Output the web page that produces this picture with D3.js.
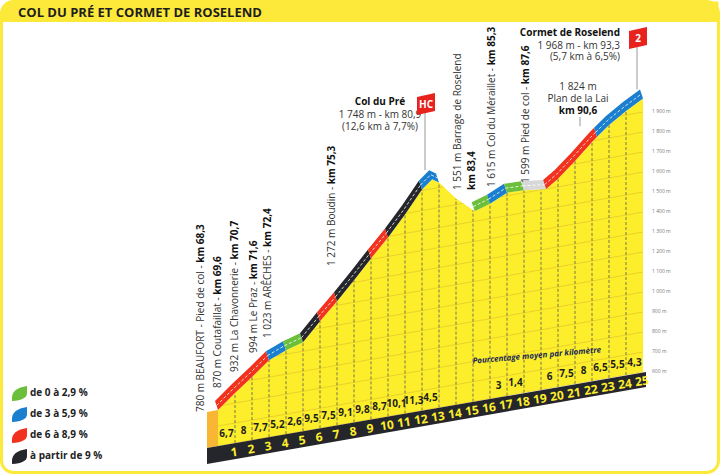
<!DOCTYPE html>
<html>
<head>
<meta charset="utf-8">
<script src="https://cdn.jsdelivr.net/npm/d3@7"></script>
<style>
body { margin: 0; background: #fff; }
text { font-family: 'Open Sans', 'Noto Sans', sans-serif; }
</style>
</head>
<body>
<svg id="profileSVG"></svg>
<script>
var width = 720
var height = 474

// profile: km from the foot, altitude in m
var profileKm = [0, 1, 2, 3, 4, 5, 6, 7, 8, 9, 10, 11, 12, 12.6, 13, 14, 15.1, 16, 17, 18, 19.3, 20, 21, 22, 23, 24, 25]
var profileAlt = [780, 850, 915, 985, 1020, 1045, 1135, 1220, 1310, 1405, 1495, 1595, 1705, 1748, 1725, 1630, 1551, 1575, 1615, 1612, 1599, 1640, 1715, 1795, 1865, 1920, 1968]
// average gradient per kilometre (null = not shown)
var kmGradients = [6.7, 8, 7.7, 5.2, 2.6, 9.5, 7.5, 9.1, 9.8, 8.7, 10.1, 11.3, 4.5, null, null, null, 3, 1.4, null, 6, 7.5, 8, 6.5, 5.5, 4.3]
// road colour classes along the profile
var roadFrom = [0, 3, 4, 5, 6, 7, 9, 10, 12, 13, 15.1, 16, 17, 18, 19.3, 22.3]
var roadTo = [3, 4, 5, 6, 7, 9, 10, 12, 13, 15.1, 16, 17, 18, 19.3, 22.3, 25]
var roadClass = ['red', 'blue', 'green', 'black', 'red', 'black', 'red', 'black', 'blue', 'none', 'green', 'blue', 'green', 'grey', 'red', 'blue']
var altTicks = [600, 700, 800, 900, 1000, 1100, 1200, 1300, 1400, 1500, 1600, 1700, 1800, 1900]
var legendLabels = ['de 0 à 2,9 %', 'de 3 à 5,9 %', 'de 6 à 8,9 %', 'à partir de 9 %']
var legendClasses = ['green', 'blue', 'red', 'black']
var classColors = { green: '#6cbf3a', blue: '#1a7fcf', red: '#f1321f', black: '#25262b', grey: '#d8d8d8', none: 'none' }

// vertical place labels: km from foot, text parts [normal, bold]
var placeKm = [-0.8, 0.2, 1.2, 2.3, 3.1, 6.9, 14.3, 16.3, 18.3]
var placeBottom = [412, 388, 372, 353, 338, 266, 190, 187, 183]
var placeText = ['780 m BEAUFORT - Pied de col - ', '870 m Coutafaillat - ', '932 m La Chavonnerie - ', '994 m Le Praz - ', '1 023 m ARÊCHES - ', '1 272 m Boudin - ', '1 551 m Barrage de Roselend', '1 615 m Col du Méraillet - ', '1 599 m Pied de col - ']
var placeBold = ['km 68,3', 'km 69,6', 'km 70,7', 'km 71,6', 'km 72,4', 'km 75,3', '', 'km 85,3', 'km 87,6']

var x = d3.scaleLinear().domain([0, 25]).range([218, 643])
var h = d3.scaleLinear().domain([600, 1900]).range([0, 260])
// slanted ground line (perspective)
function base(px) { return 446 - 0.174 * (px - 218) }
function yOf(km, alt) { var px = x(km); return base(px) - h(alt) }
function altAt(km) {
    for (var i = 1; i < profileKm.length; i++) {
        if (km <= profileKm[i]) {
            var t = (km - profileKm[i - 1]) / (profileKm[i] - profileKm[i - 1])
            return profileAlt[i - 1] + t * (profileAlt[i] - profileAlt[i - 1])
        }
    }
    return profileAlt[profileAlt.length - 1]
}

var svg = d3.select('#profileSVG').attr('width', width).attr('height', height)

// frame
svg.append('rect').attr('x', 1.5).attr('y', 1.5).attr('width', width - 3).attr('height', height - 3)
    .attr('rx', 12).attr('fill', '#fff').attr('stroke', '#fde93a').attr('stroke-width', 3)
svg.append('path').attr('d', 'M1.5,22 L1.5,13 Q1.5,1.5 13,1.5 L718.5,1.5 L718.5,22 Z').attr('fill', '#fde93a')
svg.append('text').attr('x', 18).attr('y', 17).attr('font-family', "'Liberation Sans Narrow', 'Roboto', sans-serif")
    .attr('font-weight', 'bold').attr('font-size', '13px').attr('fill', '#1e1e1e')
    .text('COL DU PRÉ ET CORMET DE ROSELEND')

var pts = profileKm.map(function (k, i) { return [x(k), yOf(k, profileAlt[i])] })
var g = svg.append('g')

// yellow body
var area = pts.slice()
area.push([x(25), base(x(25))])
area.push([x(0), base(x(0))])
g.append('path').attr('d', d3.line()(area)).attr('fill', '#fdee2c')
// left face
g.append('path').attr('d', d3.line()([[207, yOf(0, 780) + 2], [x(0), yOf(0, 780)], [x(0), base(x(0))], [207, base(x(0)) + 2]]) + 'Z')
    .attr('fill', '#f9b534')

// clip for grid
svg.append('clipPath').attr('id', 'bodyClip').append('path').attr('d', d3.line()(area))
var grid = g.append('g').attr('clip-path', 'url(#bodyClip)')
altTicks.forEach(function (a) {
    grid.append('line').attr('x1', x(0)).attr('x2', x(25))
        .attr('y1', base(x(0)) - h(a)).attr('y2', base(x(25)) - h(a))
        .attr('stroke', '#e5c92a').attr('stroke-width', 0.8)
})
d3.range(1, 25).forEach(function (k) {
    grid.append('line').attr('x1', x(k)).attr('x2', x(k))
        .attr('y1', base(x(k))).attr('y2', yOf(k, altAt(k)))
        .attr('stroke', '#555').attr('stroke-width', 0.8).attr('stroke-dasharray', '3,2')
})

// ground strip with km numbers
g.append('path').attr('d', d3.line()([[207, base(x(0)) + 2], [x(25) + 3, base(x(25))], [x(25) + 3, base(x(25)) + 15], [207, base(x(0)) + 18]]) + 'Z')
    .attr('fill', '#25262b')
d3.range(1, 26).forEach(function (k) {
    var px = x(k) - 1
    g.append('text').attr('x', px).attr('y', base(px) + 13).attr('text-anchor', 'middle')
        .attr('font-family', "'Liberation Sans Narrow', sans-serif").attr('font-weight', 'bold')
        .attr('font-size', '12px').attr('fill', '#fdee2c')
        .attr('transform', 'rotate(-8,' + px + ',' + (base(px) + 9) + ')').text(k)
})
kmGradients.forEach(function (v, i) {
    if (v === null) return
    var px = x(i + 0.5)
    g.append('text').attr('x', px).attr('y', base(px) - 8).attr('text-anchor', 'middle')
        .attr('font-family', "'Liberation Sans Narrow', sans-serif").attr('font-weight', 'bold')
        .attr('font-size', '10px').attr('fill', '#1e1e1e').text(String(v).replace('.', ','))
})

// road
roadClass.forEach(function (c, i) {
    if (c === 'none') return
    var ks = profileKm.filter(function (k) { return k > roadFrom[i] && k < roadTo[i] })
    var seg = [roadFrom[i]].concat(ks).concat([roadTo[i]]).map(function (k) { return [x(k), yOf(k, altAt(k))] })
    var top = seg.map(function (p) { return [p[0] - 3, p[1] - 9] }).reverse()
    g.append('path').attr('d', d3.line()(seg.concat(top)) + 'Z').attr('fill', classColors[c])
    g.append('path').attr('d', d3.line()(seg.map(function (p) { return [p[0] - 1.5, p[1] - 4.5] })))
        .attr('fill', 'none').attr('stroke', '#fff').attr('stroke-width', 0.8).attr('stroke-dasharray', '3,2')
})

// altitude axis
altTicks.forEach(function (a) {
    svg.append('text').attr('x', 652).attr('y', 373 - h(a)).attr('font-size', '5px').attr('fill', '#777').text(d3.format(',')(a).replace(',', ' ') + ' m')
})

// vertical place labels
placeText.forEach(function (t, i) {
    var px = x(placeKm[i])
    var tx = svg.append('text').attr('transform', 'translate(' + px + ',' + placeBottom[i] + ') rotate(-90)')
        .attr('font-size', '10px').attr('fill', '#333')
    tx.append('tspan').text(t)
    tx.append('tspan').attr('font-weight', 'bold').attr('fill', '#111').text(placeBold[i])
})
svg.append('text').attr('transform', 'translate(' + (x(14.3) + 14) + ',' + 190 + ') rotate(-90)')
    .attr('font-size', '10px').attr('font-weight', 'bold').attr('fill', '#111').text('km 83,4')

// summits
function summit(cx, lines, flagX, flagY, poleY, label) {
    lines.forEach(function (l) {
        svg.append('text').attr('x', cx).attr('y', l[1]).attr('text-anchor', l[3] || 'middle')
            .attr('font-size', '10px').attr('font-weight', l[2] ? 'bold' : 'normal')
            .attr('fill', l[2] ? '#111' : '#333').text(l[0])
    })
    if (flagX !== null) {
        svg.append('line').attr('x1', flagX).attr('x2', flagX).attr('y1', flagY).attr('y2', poleY)
            .attr('stroke', '#999').attr('stroke-width', 1)
        svg.append('path').attr('d', 'M' + (flagX - 8) + ',' + (flagY - 15) + ' L' + (flagX + 10) + ',' + (flagY - 19) + ' L' + (flagX + 10) + ',' + (flagY - 1) + ' L' + (flagX - 8) + ',' + (flagY + 3) + 'Z')
            .attr('fill', '#e8231d')
        svg.append('text').attr('x', flagX + 1).attr('y', flagY - 4).attr('text-anchor', 'middle')
            .attr('font-family', "'Liberation Sans Narrow', sans-serif").attr('font-weight', 'bold')
            .attr('font-size', '10px').attr('fill', '#fff').text(label)
    }
}
summit(380, [['Col du Pré', 105, true], ['1 748 m - km 80,9', 118], ['(12,6 km à 7,7%)', 130]], 425, 112, yOf(12.6, 1748) - 9, 'HC')
summit(620, [['Cormet de Roselend', 36, true, 'end'], ['1 968 m - km 93,3', 49, false, 'end'], ['(5,7 km à 6,5%)', 60, false, 'end']], 637, 46, yOf(25, 1968) - 9, '2')
summit(578, [['1 824 m', 90], ['Plan de la Lai', 102], ['km 90,6', 114, true]], null)
svg.append('line').attr('x1', 580).attr('x2', 580).attr('y1', 117).attr('y2', yOf(22.3, 1824) - 9).attr('stroke', '#999')

svg.append('text').attr('x', 537).attr('y', 358).attr('text-anchor', 'middle')
    .attr('font-family', "'Liberation Sans Narrow', sans-serif").attr('font-style', 'italic').attr('font-weight', 'bold')
    .attr('font-size', '8px').attr('fill', '#1b2a55').attr('transform', 'rotate(-5,537,358)')
    .text('Pourcentage moyen par kilomètre')

// legend
legendLabels.forEach(function (l, i) {
    var ly = 390 + i * 21
    svg.append('path').attr('d', 'M12,' + (ly + 8) + ' Q12,' + (ly - 2) + ' 27,' + (ly - 4) + ' L27,' + (ly + 3) + ' Q27,' + (ly + 10) + ' 12,' + (ly + 11) + 'Z')
        .attr('fill', classColors[legendClasses[i]])
    svg.append('text').attr('x', 30).attr('y', ly + 6).attr('font-family', "'Liberation Sans Narrow', sans-serif")
        .attr('font-weight', 'bold').attr('font-size', '10px').attr('fill', '#222').text(l)
})
</script>
</body>
</html>
